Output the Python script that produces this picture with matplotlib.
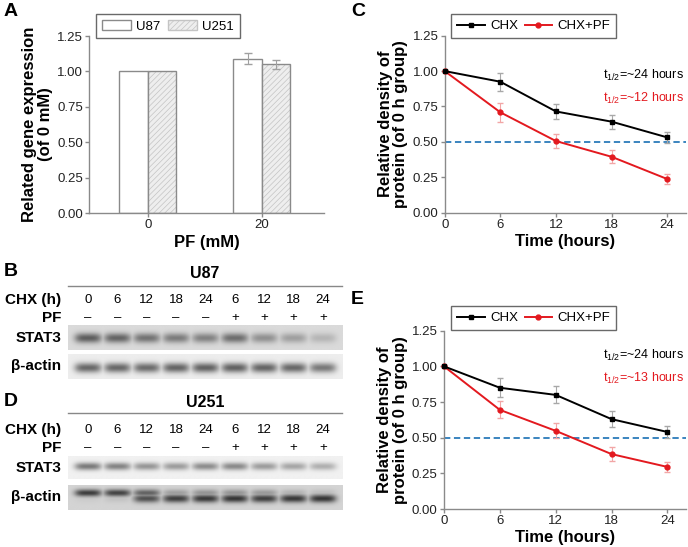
import numpy as np
import matplotlib
matplotlib.use("Agg")
import matplotlib.pyplot as plt
from matplotlib.patches import Patch
from matplotlib.lines import Line2D

plt.rcParams['font.family'] = ['Liberation Sans', 'DejaVu Sans']
plt.rcParams['hatch.linewidth'] = 0.5

# ---------------- data ----------------
pf_conc = [0, 20]
u87_expr = [1.00, 1.09]
u87_err = [0.0, 0.04]
u251_expr = [1.00, 1.05]
u251_err = [0.0, 0.03]

time_h = [0, 6, 12, 18, 24]
c_chx = [1.00, 0.925, 0.715, 0.643, 0.532]
c_chx_err = [0.0, 0.065, 0.055, 0.05, 0.04]
c_pf = [1.00, 0.709, 0.506, 0.395, 0.238]
c_pf_err = [0.0, 0.065, 0.05, 0.045, 0.035]

e_chx = [1.00, 0.850, 0.800, 0.630, 0.540]
e_chx_err = [0.0, 0.065, 0.06, 0.055, 0.045]
e_pf = [1.00, 0.695, 0.548, 0.385, 0.295]
e_pf_err = [0.0, 0.06, 0.052, 0.05, 0.033]

yticks = [0.00, 0.25, 0.50, 0.75, 1.00, 1.25]

lane_chx = ['0', '6', '12', '18', '24', '6', '12', '18', '24']
lane_pf = ['–', '–', '–', '–', '–', '+', '+', '+', '+']

# band darkness per lane (0 = none, 1 = darkest)
b_stat3 = [0.85, 0.80, 0.70, 0.64, 0.60, 0.74, 0.50, 0.40, 0.25]
b_actin = [0.80, 0.80, 0.78, 0.82, 0.84, 0.84, 0.82, 0.80, 0.70]
d_stat3 = [0.76, 0.70, 0.58, 0.54, 0.64, 0.66, 0.54, 0.48, 0.42]
d_actin_upper = [0.90, 0.86, 0.68, 0.32, 0.38, 0.38, 0.35, 0.20, 0.14]
d_actin_lower = [0.05, 0.10, 0.78, 0.88, 0.92, 0.94, 0.88, 0.92, 0.94]

RED = '#e3191f'
BLUE = '#2b7bba'
GREY = '#8a8a8a'

W, H = 688, 547
fig = plt.figure(figsize=(W / 100, H / 100), dpi=100)


def rect(x0, y0, x1, y1):
    return [x0 / W, 1 - y1 / H, (x1 - x0) / W, (y1 - y0) / H]


def fx(x):
    return x / W


def fy(y):
    return 1 - y / H


def style_axes(ax):
    for s in ['top', 'right']:
        ax.spines[s].set_visible(False)
    for s in ['left', 'bottom']:
        ax.spines[s].set_color(GREY)
        ax.spines[s].set_linewidth(1.0)
    ax.tick_params(direction='out', length=3, width=1, color=GREY,
                   labelsize=9.5, pad=1.5, labelcolor='#222222')
    ax.set_ylim(0, 1.25)
    ax.set_yticks(yticks)
    ax.set_yticklabels([f'{v:.2f}' for v in yticks])


# ---------------- Panel A ----------------
axA = fig.add_axes(rect(89, 36, 324, 213))
style_axes(axA)
xa = np.array(pf_conc, dtype=float)
axA.bar(xa - 2.5, u87_expr, width=5, color='white', edgecolor=GREY, lw=1, zorder=2)
axA.bar(xa + 2.5, u251_expr, width=5, color='#eeeeee', edgecolor='#c4c4c4',
        hatch='//////', lw=0, zorder=2)
axA.bar(xa + 2.5, u251_expr, width=5, fill=False, edgecolor=GREY, lw=1, zorder=3)
axA.errorbar(xa[1:] - 2.5, u87_expr[1:], yerr=u87_err[1:], fmt='none',
             ecolor='#a0a0a0', elinewidth=0.8, capsize=3, zorder=4)
axA.errorbar(xa[1:] + 2.5, u251_expr[1:], yerr=u251_err[1:], fmt='none',
             ecolor='#a0a0a0', elinewidth=0.8, capsize=3, zorder=4)
axA.set_xlim(-10.3, 30.9)
axA.set_xticks(pf_conc)
axA.set_xlabel('PF (mM)', fontsize=12, fontweight='bold', labelpad=3)
axA.set_ylabel('Related gene expression\n(of 0 mM)', fontsize=12,
               fontweight='bold', labelpad=3, linespacing=1.05)
legA_handles = [Patch(facecolor='white', edgecolor=GREY, label='U87'),
                Patch(facecolor='#eeeeee', edgecolor='#c4c4c4', hatch='//////',
                      label='U251')]
legA = fig.legend(handles=legA_handles, loc='upper left',
                  bbox_to_anchor=(fx(96), fy(14)), bbox_transform=fig.transFigure,
                  ncol=2, fontsize=9.5, frameon=True, fancybox=False,
                  handlelength=2.2, handleheight=0.9, columnspacing=0.6,
                  handletextpad=0.4, borderpad=0.42, borderaxespad=0)
legA.get_frame().set_edgecolor('#444444')
legA.get_frame().set_linewidth(1)


# ---------------- Panels C & E ----------------
def decay_panel(r, chx, chx_err, pf, pf_err, t_red, leg_top, t_y):
    ax = fig.add_axes(rect(*r))
    style_axes(ax)
    ax.set_xlim(0, 26)
    ax.set_xticks(time_h)
    ax.axhline(0.5, ls=(0, (3.5, 2)), color=BLUE, lw=1.3, zorder=1)
    ax.errorbar(time_h, chx, yerr=chx_err, fmt='none', ecolor='#a8a8a8',
                elinewidth=0.8, capsize=2.5, zorder=2)
    ax.errorbar(time_h, pf, yerr=pf_err, fmt='none', ecolor='#f2a6a6',
                elinewidth=0.8, capsize=2.5, zorder=2)
    ax.plot(time_h, chx, color='black', lw=1.4, marker='s', ms=3.5, zorder=4,
            clip_on=False)
    ax.plot(time_h, pf, color=RED, lw=1.4, marker='o', ms=3.5, zorder=3,
            clip_on=False)
    ax.set_xlabel('Time (hours)', fontsize=12, fontweight='bold', labelpad=2)
    ax.set_ylabel('Relative density of\nprotein (of 0 h group)', fontsize=12,
                  fontweight='bold', labelpad=3, linespacing=1.05)
    handles = [Line2D([], [], color='black', lw=1.4, marker='s', ms=3.5, label='CHX'),
               Line2D([], [], color=RED, lw=1.4, marker='o', ms=3.5, label='CHX+PF')]
    leg = fig.legend(handles=handles, loc='upper left',
                     bbox_to_anchor=(fx(451), fy(leg_top)),
                     bbox_transform=fig.transFigure, ncol=2, fontsize=9.5,
                     frameon=True, fancybox=False, handlelength=2.1,
                     columnspacing=0.5, handletextpad=0.4, borderpad=0.45,
                     borderaxespad=0)
    leg.get_frame().set_edgecolor('#444444')
    leg.get_frame().set_linewidth(1)
    fig.text(fx(603), fy(t_y[0]), 't$_{\\mathregular{1/2}}$=~24 hours',
             fontsize=9, color='black', va='center', ha='left')
    fig.text(fx(603), fy(t_y[1]), 't$_{\\mathregular{1/2}}$=~' + t_red + ' hours',
             fontsize=9, color=RED, va='center', ha='left')
    return ax


decay_panel((444.7, 35.7, 685.7, 212.7), c_chx, c_chx_err, c_pf, c_pf_err,
            '12', 14, (75, 98))
decay_panel((444.0, 330.7, 686.0, 509.0), e_chx, e_chx_err, e_pf, e_pf_err,
            '13', 306, (355, 378))


# ---------------- Blots ----------------
BX0, BX1 = 68, 343
XPAD = 0.68


def lane_px(i):
    return BX0 + (i + XPAD) * (BX1 - BX0) / (8 + 2 * XPAD)


def blot(y0, y1, bands, bg, dark):
    ax = fig.add_axes(rect(BX0, y0, BX1, y1))
    nx, ny = 500, 60
    xs = np.linspace(-XPAD, 8 + XPAD, nx)
    ys = np.linspace(0, 1, ny)
    X, Y = np.meshgrid(xs, ys)
    img = np.zeros_like(X)
    for yc, sig, dens in bands:
        for i, d in enumerate(dens):
            prof = np.exp(-((X - i) / 0.46) ** 4) * np.exp(-((Y - yc) / sig) ** 2)
            img = np.maximum(img, d * prof)
    val = bg - img * (bg - dark)
    ax.imshow(val, cmap='gray', vmin=0, vmax=1, aspect='auto', origin='lower',
              extent=(-XPAD, 8 + XPAD, 0, 1), interpolation='bilinear')
    ax.set_xlim(-XPAD, 8 + XPAD)
    ax.set_ylim(0, 1)
    ax.axis('off')
    return ax


def blot_header(title, title_y, line_y, chx_y, pf_y):
    fig.text(fx(205), fy(title_y), title, fontsize=11.5, fontweight='bold',
             ha='center', va='center')
    fig.add_artist(Line2D([fx(BX0), fx(342)], [fy(line_y), fy(line_y)],
                          color='#888888', lw=1))
    fig.text(fx(61), fy(chx_y), 'CHX (h)', fontsize=11, fontweight='bold',
             ha='right', va='center')
    fig.text(fx(61), fy(pf_y), 'PF', fontsize=11, fontweight='bold',
             ha='right', va='center')
    for i in range(9):
        fig.text(fx(lane_px(i)), fy(chx_y), lane_chx[i], fontsize=9.5,
                 ha='center', va='center')
        fig.text(fx(lane_px(i)), fy(pf_y), lane_pf[i], fontsize=9.5,
                 ha='center', va='center')


# Panel B (U87)
blot_header('U87', 273, 286, 300, 318)
blot(325, 350, [(0.48, 0.2, b_stat3)], bg=0.855, dark=0.28)
blot(354, 379, [(0.45, 0.2, b_actin)], bg=0.93, dark=0.28)
fig.text(fx(61), fy(338), 'STAT3', fontsize=11, fontweight='bold', ha='right', va='center')
fig.text(fx(61), fy(366), 'β-actin', fontsize=11, fontweight='bold', ha='right', va='center')

# Panel D (U251)
blot_header('U251', 402.5, 412.7, 430, 447.7)
blot(456, 479, [(0.55, 0.17, d_stat3)], bg=0.945, dark=0.33)
blot(485, 510, [(0.66, 0.14, d_actin_upper), (0.44, 0.16, d_actin_lower)],
     bg=0.83, dark=0.17)
fig.text(fx(61), fy(467.5), 'STAT3', fontsize=11, fontweight='bold', ha='right', va='center')
fig.text(fx(61), fy(497), 'β-actin', fontsize=11, fontweight='bold', ha='right', va='center')

# Panel letters
for lab, x, y in [('A', 4, 11), ('B', 4, 271), ('C', 351, 11), ('D', 4, 402), ('E', 351, 299)]:
    fig.text(fx(x), fy(y), lab, fontsize=14, fontweight='bold', ha='left', va='center')

fig.savefig('out.png', dpi=100)
